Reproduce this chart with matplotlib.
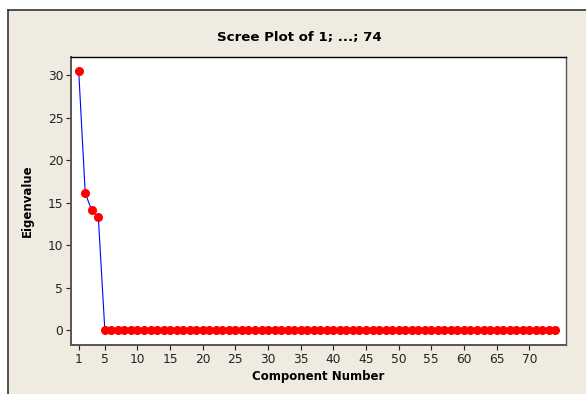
import matplotlib.pyplot as plt
import numpy as np
from matplotlib.patches import Rectangle
from matplotlib.lines import Line2D

# eigenvalues, components 1..74
components = np.arange(1, 75)
eigenvalues = [30.5, 16.1, 14.1, 13.35] + [0.0] * 70
xticks = [1, 5, 10, 15, 20, 25, 30, 35, 40, 45, 50, 55, 60, 65, 70]
yticks = [0, 5, 10, 15, 20, 25, 30]

W, H = 586, 394
panel = '#efebe1'

plt.rcParams['font.family'] = ['Verdana', 'DejaVu Sans']

fig = plt.figure(figsize=(W / 100, H / 100), dpi=100)
fig.patch.set_facecolor('white')

# beige Minitab-style panel with dark border top/left
fig.patches.append(Rectangle((8 / W, 0), 1 - 8 / W, 1 - 10 / H, transform=fig.transFigure,
                             facecolor=panel, edgecolor='none', zorder=-5))
fig.lines.append(Line2D([8 / W, 1], [1 - 10 / H, 1 - 10 / H], transform=fig.transFigure,
                        color='#333333', lw=1.2, zorder=-4))
fig.lines.append(Line2D([8 / W, 8 / W], [0, 1 - 10 / H], transform=fig.transFigure,
                        color='#333333', lw=1.2, zorder=-4))

ax = fig.add_axes([71 / W, (H - 345) / H, (565.7 - 71) / W, (345 - 57) / H])
ax.set_zorder(1)
ax.set_facecolor('white')
ax.plot(components, eigenvalues, color='blue', lw=0.8, zorder=2)
ax.plot(components, eigenvalues, 'o', color='red', markersize=5.5, zorder=3)

ax.set_xlim(-0.18, 75.58)
ax.set_ylim(-1.77, 32.16)
ax.set_xticks(xticks)
ax.set_yticks(yticks)
ax.tick_params(direction='out', length=3.5, width=0.8, labelsize=8.8, colors='#222222', pad=2)

ax.spines['top'].set_color('black')
ax.spines['right'].set_color('#555555')
ax.spines['left'].set_color('#555555')
ax.spines['bottom'].set_color('#555555')
for s in ax.spines.values():
    s.set_linewidth(1.0)
ax.spines['left'].set_linewidth(1.4)
ax.spines['bottom'].set_linewidth(1.4)

ax.set_xlabel('Component Number', fontsize=8.5, fontweight='bold', labelpad=3)
ax.set_ylabel('Eigenvalue', fontsize=8.5, fontweight='bold', labelpad=10)
fig.text(299 / W, 1 - 37 / H, 'Scree Plot of 1; ...; 74', ha='center', va='center',
         fontsize=9.6, fontweight='bold')

fig.savefig('out.png', dpi=100, facecolor=fig.get_facecolor())
